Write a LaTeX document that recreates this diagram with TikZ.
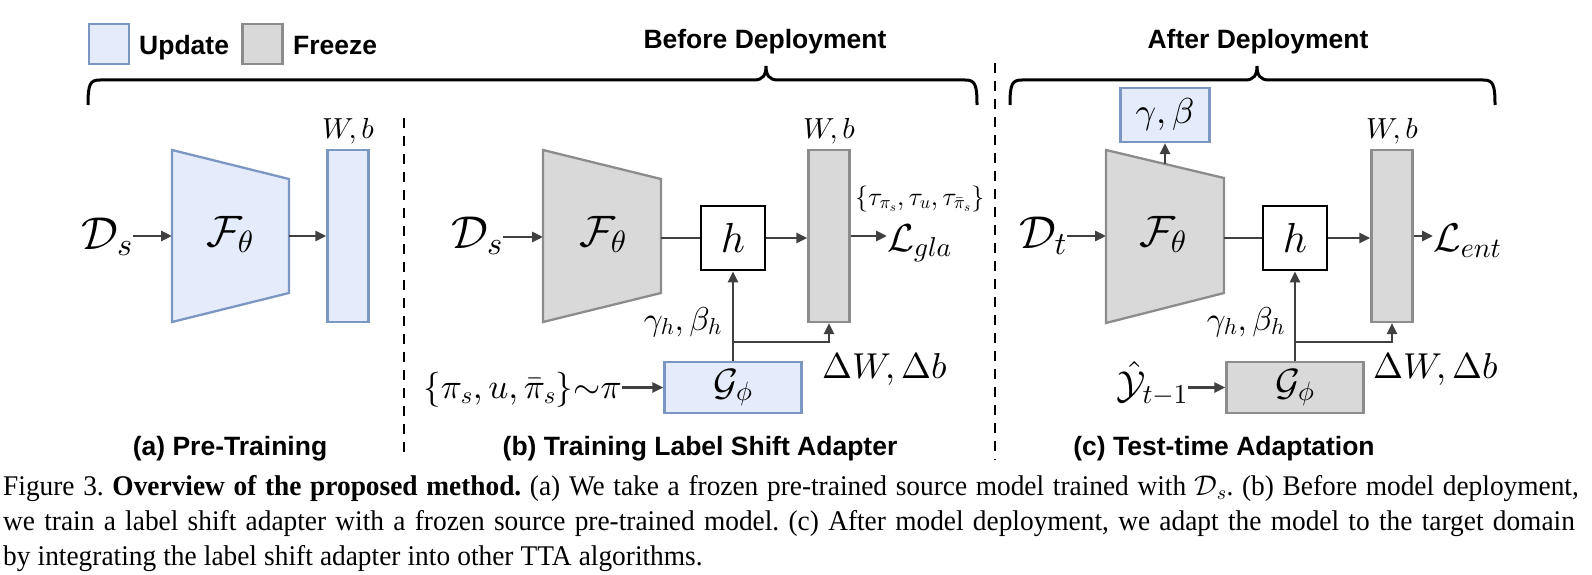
\documentclass[tikz,border=0pt]{standalone}
\usepackage{fontspec}
\newfontfamily\labelsans{Liberation Sans}
\newfontfamily\captionserif[FakeStretch=0.96]{Liberation Serif}
% scalable math fonts for the large labels
\DeclareFontFamily{OML}{cmm}{\skewchar\font'177}
\DeclareFontShape{OML}{cmm}{m}{it}{<->cmmi10}{}
\DeclareFontFamily{OMS}{cmsy}{\skewchar\font'60}
\DeclareFontShape{OMS}{cmsy}{m}{n}{<->cmsy10}{}
\DeclareFontFamily{OT1}{cmr}{}
\DeclareFontShape{OT1}{cmr}{m}{n}{<->cmr10}{}
\usetikzlibrary{arrows.meta}
\usetikzlibrary{positioning}

\definecolor{updfill}{HTML}{E4EBFB}
\definecolor{updline}{HTML}{7C96C2}
\definecolor{frzfill}{HTML}{D9D9D9}
\definecolor{frzline}{HTML}{8C8C8C}
\definecolor{flowgray}{HTML}{404040}

\newcommand{\picsize}[2]{\fontsize{#1}{#2}\selectfont}

\tikzset{
  upd/.style={draw=updline, fill=updfill, line width=2.3pt},
  frz/.style={draw=frzline, fill=frzfill, line width=2.3pt},
  flow/.style={draw=flowgray, line width=2.9pt, ->, >={Triangle[length=11pt,width=10pt]}},
  link/.style={draw=flowgray, line width=2.9pt},
  brace/.style={draw=black, line width=3pt},
  split/.style={draw=black, line width=2.6pt, dash pattern=on 10pt off 8pt},
  hbox/.style={draw=black, fill=white, line width=2.8pt, minimum size=64pt, inner sep=0pt, font=\picsize{42}{46}},
  wbox/.style={frz, minimum width=41pt, minimum height=172pt, inner sep=0pt},
  gbox/.style={minimum width=137pt, minimum height=51pt, inner sep=0pt, font=\picsize{38}{42}},
  mth/.style={inner sep=0pt},
  boldlab/.style={font=\labelsans\bfseries\picsize{26.5}{30}, inner sep=0pt},
}

\begin{document}
\begin{tikzpicture}[x=1pt,y=-1pt]
\useasboundingbox (0,0) rectangle (1592,575);

% legend
\node[upd, minimum size=40pt] (updkey) at (109,44) {};
\node[boldlab, anchor=base west] (updtxt) at (139,54.5) {Update};
\node[frz, minimum size=40pt] (frzkey) at (262.5,44) {};
\node[boldlab, anchor=base west] (frztxt) at (293,54.5) {Freeze};

% braces over the two stages
\node[boldlab, anchor=base] (before) at (765,49) {Before Deployment};
\draw[brace] (88,105) .. controls (88,84) and (90,80) .. (100,80) -- (754,80)
  .. controls (763,80) and (766,75) .. (766,66) .. controls (766,75) and (769,80) .. (778,80)
  -- (965,80) .. controls (975,80) and (977,84) .. (977,105);
\node[boldlab, anchor=base] (after) at (1258,49) {After Deployment};
\draw[brace] (1010,105) .. controls (1010,84) and (1012,80) .. (1022,80) -- (1245,80)
  .. controls (1254,80) and (1257,75) .. (1257,66) .. controls (1257,75) and (1260,80) .. (1269,80)
  -- (1483,80) .. controls (1493,80) and (1495,84) .. (1495,105);

\draw[split] (404,118) -- (404,458);
\draw[split] (995,63) -- (995,460);

% (a) pre-training
\draw[upd] (172,150) -- (289,179) -- (289,293) -- (172,322) -- cycle;
\coordinate (fa-in) at (172,236);
\coordinate (fa-out) at (289,236);
\node[mth, anchor=base, font=\picsize{44}{48}] (fa) at (230,246) {$\mathcal{F}_\theta$};
\node[mth, anchor=base east, font=\picsize{46}{50}] (dsa) at (133,249) {$\mathcal{D}_s$};
\node[upd, minimum width=41pt, minimum height=172pt, inner sep=0pt] (wa) at (348,236) {};
\node[mth, above=5pt of wa, font=\picsize{29}{32}] (wal) {$W,b$};
\draw[flow] (dsa.east |- fa-in) -- (fa-in);
\draw[flow] (fa-out) -- (wa.west |- fa-out);
\node[boldlab, anchor=base] (capa) at (230,455) {(a) Pre-Training};

% (b) training label shift adapter
\draw[frz] (543,150) -- (661,179) -- (661,293) -- (543,322) -- cycle;
\coordinate (fb-in) at (543,237);
\coordinate (fb-out) at (661,238);
\node[mth, anchor=base, font=\picsize{44}{48}] (fb) at (603,246) {$\mathcal{F}_\theta$};
\node[mth, anchor=base east, font=\picsize{46}{50}] (dsb) at (503,248) {$\mathcal{D}_s$};
\node[hbox] (hb) at (733,238) {$h$};
\node[wbox] (wb) at (829,236) {};
\node[mth, above=5pt of wb, font=\picsize{29}{32}] (wbl) {$W,b$};
\node[mth, anchor=base west, font=\picsize{39}{42}] (lgla) at (887,251) {$\mathcal{L}_{gla}$};
\node[mth, anchor=base west, font=\picsize{26}{28}] (taub) at (855,205) {$\{\tau_{\pi_s},\tau_u,\tau_{\bar{\pi}_s}\}$};
\node[gbox, upd] (gb) at (733,387.5) {$\mathcal{G}_\phi$};
\node[mth, anchor=base east, font=\picsize{35}{38}] (pib) at (622,398) {$\{\pi_s,u,\bar{\pi}_s\}{\sim}\pi$};
\node[mth, anchor=base east, font=\picsize{33}{36}] (ghb) at (722,330) {$\gamma_h,\beta_h$};
\node[mth, anchor=base west, font=\picsize{36}{40}] (dwb) at (822,378) {$\Delta W,\Delta b$};
\coordinate (bb) at (733,342);
\draw[flow] (dsb.east |- fb-in) -- (fb-in);
\draw[link] (fb-out) -- (hb.west);
\draw[flow] (hb.east) -- (wb.west |- hb.east);
\draw[flow] (wb.east) -- (wb.east -| lgla.west);
\draw[flow] (pib.east |- gb.west) -- (gb.west);
\draw[flow] (gb.north) -- (hb.south);
\draw[flow] (bb) -| (wb.south);
\node[boldlab, anchor=base] (capb) at (700,455) {(b) Training Label Shift Adapter};

% (c) test-time adaptation
\draw[frz] (1106,150) -- (1224,178) -- (1224,293) -- (1106,323) -- cycle;
\coordinate (fc-in) at (1106,236);
\coordinate (fc-out) at (1224,238);
\coordinate (fc-top) at (1165,164);
\node[mth, anchor=base, font=\picsize{44}{48}] (fc) at (1163,246) {$\mathcal{F}_\theta$};
\node[mth, anchor=base east, font=\picsize{46}{50}] (dtc) at (1067,248) {$\mathcal{D}_t$};
\node[upd, minimum width=89pt, minimum height=54pt, inner sep=0pt, font=\picsize{36}{40}] (gbc) at (1165,115) {$\gamma,\beta$};
\node[hbox] (hc) at (1295,238) {$h$};
\node[wbox] (wc) at (1392,236) {};
\node[mth, above=5pt of wc, font=\picsize{29}{32}] (wcl) {$W,b$};
\node[mth, anchor=base west, font=\picsize{40}{44}] (lent) at (1433,251) {$\mathcal{L}_{ent}$};
\node[gbox, frz] (gc) at (1295,387.5) {$\mathcal{G}_\phi$};
\node[mth, anchor=base east, font=\picsize{39}{42}] (yhat) at (1188,398) {$\hat{\mathcal{Y}}_{t-1}$};
\node[mth, anchor=base east, font=\picsize{33}{36}] (ghc) at (1285,330) {$\gamma_h,\beta_h$};
\node[mth, anchor=base west, font=\picsize{36}{40}] (dwc) at (1373,378) {$\Delta W,\Delta b$};
\coordinate (bc) at (1295,342);
\draw[flow] (dtc.east |- fc-in) -- (fc-in);
\draw[flow] (fc-top) -- (gbc.south);
\draw[link] (fc-out) -- (hc.west);
\draw[flow] (hc.east) -- (wc.west |- hc.east);
\draw[flow] (wc.east) -- (wc.east -| lent.west);
\draw[flow] (yhat.east |- gc.west) -- (gc.west);
\draw[flow] (gc.north) -- (hc.south);
\draw[flow] (bc) -| (wc.south);
\node[boldlab, anchor=base] (capc) at (1224,455) {(c) Test-time Adaptation};

% caption
\node[anchor=base west, inner sep=0pt, text width=1586pt, font=\captionserif\picsize{28.5}{35}] (caption) at (3,495)
  {\frenchspacing\spaceskip=0.25em plus 0.3em minus 0.06em
   Figure 3. \textbf{Overview of the proposed method.} (a) We take a frozen pre-trained source model trained with $\mathcal{D}_s$. (b) Before model deployment,\linebreak
   we train a label shift adapter with a frozen source pre-trained model. (c) After model deployment, we adapt the model to the target domain\linebreak
   by integrating the label shift adapter into other TTA algorithms.};
\end{tikzpicture}
\end{document}
